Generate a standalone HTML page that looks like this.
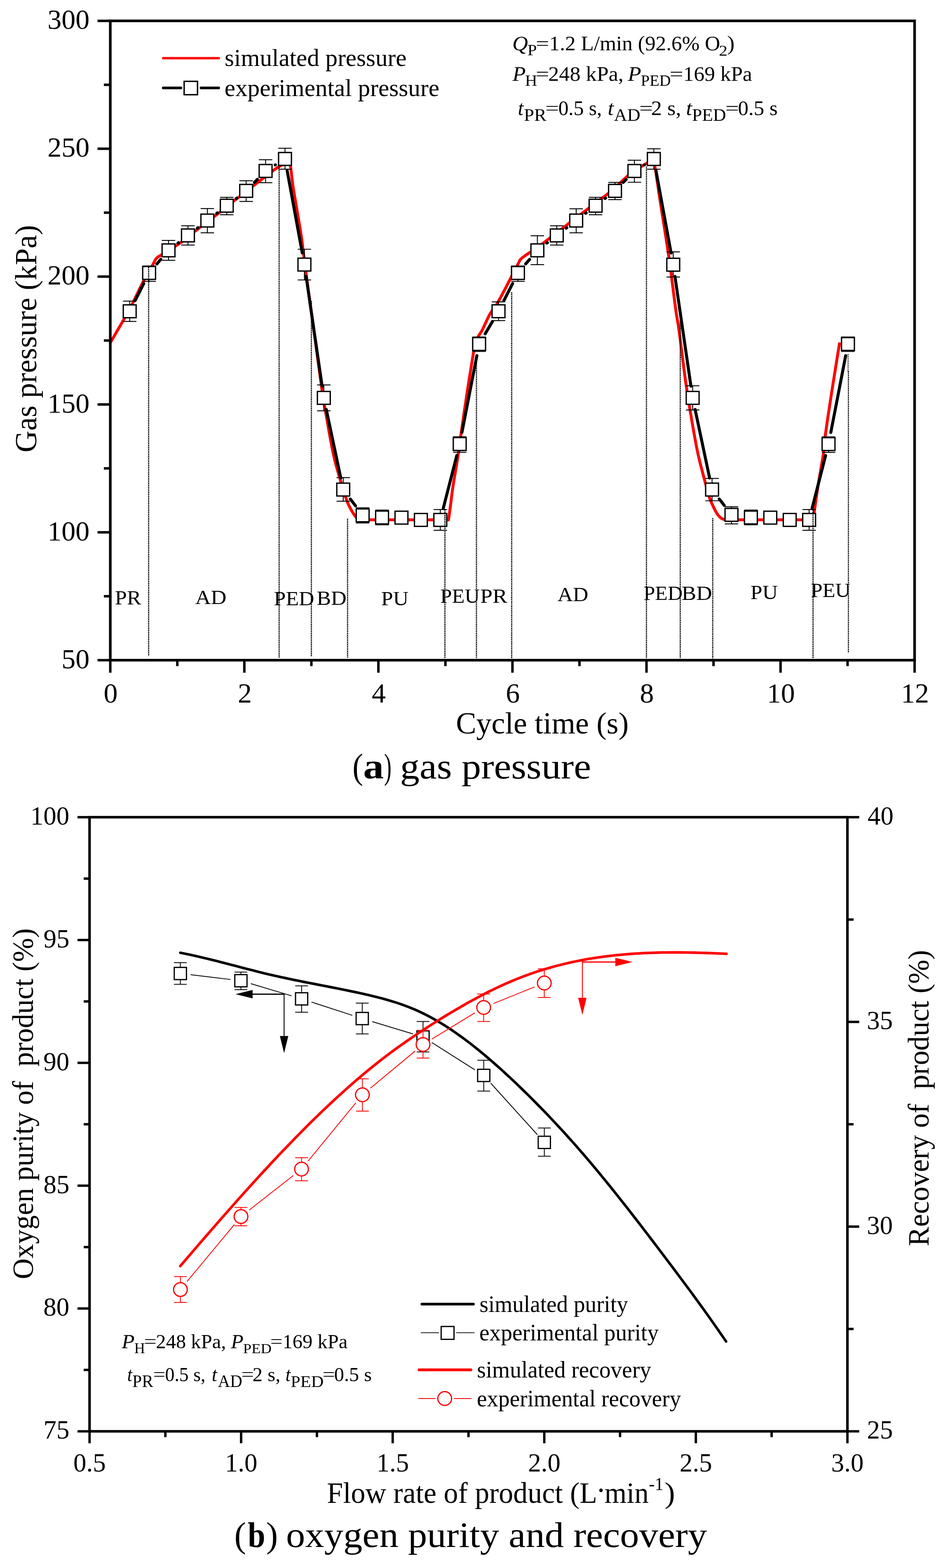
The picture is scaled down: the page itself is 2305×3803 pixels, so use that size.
<!DOCTYPE html>
<html><head><meta charset="utf-8"><title>Figure</title><style>html,body{margin:0;padding:0;background:#fff}svg{display:block}text{font-family:"Liberation Serif","Times New Roman",serif;fill:#000}</style></head><body>
<svg width="2305" height="3803" viewBox="0 0 2305 3803">
<rect width="2305" height="3803" fill="#fff"/>
<g id="chart-a">
<polyline points="267.6,831.3 271.3,824.9 276.7,815.7 282.9,805.0 289.3,793.9 295.3,783.7 300.0,775.5 303.3,769.9 305.6,766.2 307.4,763.3 309.1,760.2 311.4,756.1 314.6,750.0 319.0,741.2 324.4,730.2 330.2,718.2 336.1,706.1 341.5,695.1 346.0,686.0 349.6,679.1 352.7,673.4 355.4,668.8 357.8,664.8 359.9,661.1 362.0,657.5 363.9,654.1 365.5,651.2 367.0,648.7 368.3,646.3 369.6,644.0 371.0,641.5 372.4,638.9 373.8,636.1 375.1,633.5 376.5,630.9 378.0,628.5 379.6,626.4 381.4,624.7 383.2,623.3 385.1,622.1 387.2,620.9 389.4,619.7 391.7,618.3 394.1,616.8 396.5,615.2 399.1,613.6 401.9,611.8 405.0,609.8 408.7,607.5 413.1,604.7 418.3,601.5 423.8,598.1 429.3,594.6 434.5,591.2 438.9,588.2 442.2,585.8 444.5,583.9 446.4,582.1 448.6,580.2 451.6,577.6 456.0,574.0 462.1,569.3 469.5,563.6 477.6,557.4 486.2,550.8 494.8,544.3 503.0,538.0 511.2,531.8 519.7,525.2 528.3,518.7 536.5,512.5 543.8,506.8 550.0,502.0 554.6,498.3 557.8,495.6 560.2,493.5 562.3,491.5 564.8,489.4 568.1,486.7 572.5,483.4 577.5,479.7 582.8,475.8 588.1,471.9 593.1,468.3 597.4,465.0 600.9,462.2 604.0,459.7 606.6,457.4 609.2,455.2 611.8,453.0 614.7,450.6 617.8,448.2 620.8,445.8 623.9,443.5 627.2,441.0 630.6,438.4 634.4,435.5 638.7,432.2 643.4,428.5 648.3,424.7 653.2,420.9 657.9,417.4 661.9,414.4 665.4,411.9 668.5,409.7 671.3,407.8 673.8,406.2 676.2,404.7 678.6,403.3 680.8,402.1 682.9,401.1 684.8,400.3 686.6,399.7 688.3,399.1 690.0,398.5 691.7,397.9 693.3,397.3 694.9,396.8 696.3,396.5 697.7,396.3 699.0,396.5 700.1,396.6 701.1,396.4 702.0,396.5 702.9,397.2 703.8,399.2 704.7,402.7 705.6,408.1 706.5,415.1 707.4,423.3 708.4,432.2 709.5,441.4 710.7,450.6 712.1,459.9 713.8,469.8 715.5,480.0 717.3,490.3 719.1,500.7 720.8,510.9 722.5,521.2 724.3,531.7 726.1,542.3 727.8,552.5 729.4,562.2 730.8,571.1 731.9,578.8 732.8,585.6 733.6,591.8 734.3,597.9 735.0,604.2 735.9,611.3 736.8,618.2 737.6,624.6 738.4,631.2 739.4,639.0 740.7,649.0 742.4,662.0 744.6,678.3 747.2,697.2 750.1,718.2 753.2,741.0 756.6,765.1 760.0,790.0 763.9,818.2 768.2,850.4 772.8,883.9 777.2,916.0 781.0,943.9 784.0,965.0 785.7,977.0 786.4,981.6 786.6,982.1 786.7,981.7 787.2,983.6 788.6,991.0 791.0,1004.8 794.2,1022.7 797.7,1042.9 801.4,1063.6 805.1,1083.2 808.5,1100.0 811.8,1114.2 815.2,1127.4 818.5,1139.4 821.7,1150.3 824.5,1159.8 826.8,1168.0 828.5,1174.4 829.8,1179.0 830.7,1182.2 831.4,1184.8 832.1,1187.2 833.0,1190.0 834.0,1193.1 835.0,1195.9 835.9,1198.6 836.9,1201.2 837.8,1203.7 838.8,1206.3 839.7,1208.9 840.6,1211.4 841.5,1213.9 842.4,1216.3 843.4,1218.8 844.4,1221.3 845.5,1223.8 846.7,1226.3 847.9,1228.7 849.1,1231.2 850.5,1233.7 851.9,1236.3 853.5,1239.0 855.1,1241.9 856.9,1244.7 858.7,1247.5 860.5,1250.0 862.2,1252.2 863.9,1254.0 865.5,1255.4 867.1,1256.7 868.7,1257.7 870.4,1258.5 872.0,1259.3 873.6,1259.9 875.0,1260.3 876.5,1260.5 878.1,1260.6 879.9,1260.7 882.0,1260.8 882.8,1260.9 881.8,1260.9 881.0,1260.9 882.4,1260.9 888.1,1260.8 900.0,1260.8 921.3,1260.8 951.1,1260.8 985.2,1260.8 1019.1,1260.8 1048.8,1260.8 1070.0,1260.8 1081.7,1260.8 1087.1,1260.9 1088.2,1260.9 1087.0,1260.9 1085.5,1260.9 1085.5,1260.8 1086.7,1260.7 1087.3,1260.5 1087.6,1260.3 1087.7,1260.1 1087.8,1259.6 1088.0,1259.0 1088.3,1258.5 1088.4,1258.2 1088.6,1257.7 1088.8,1256.7 1089.1,1255.0 1089.5,1252.0 1090.1,1247.5 1090.9,1241.8 1091.8,1235.2 1092.7,1228.3 1093.7,1221.4 1094.5,1215.0 1095.2,1209.5 1095.7,1204.7 1096.3,1199.9 1096.9,1194.6 1097.8,1188.2 1099.0,1180.0 1100.7,1169.4 1102.8,1156.7 1105.1,1142.9 1107.5,1128.8 1109.7,1115.6 1111.5,1104.0 1112.9,1094.9 1113.9,1087.5 1114.8,1081.0 1115.6,1074.1 1116.7,1065.9 1118.2,1055.4 1120.1,1042.1 1122.3,1027.0 1124.7,1010.4 1127.2,993.2 1129.8,975.9 1132.3,959.0 1135.0,941.6 1137.9,922.8 1140.9,904.0 1143.8,886.2 1146.3,870.7 1148.3,858.5 1149.6,850.5 1150.3,845.8 1150.6,843.3 1150.9,842.0 1151.3,840.6 1152.0,838.0 1153.1,834.4 1154.4,830.7 1155.8,826.9 1157.3,823.2 1158.9,819.6 1160.4,816.3 1161.9,813.5 1163.3,811.3 1164.7,809.2 1166.3,806.8 1168.2,803.9 1170.3,800.0 1172.9,794.8 1175.8,788.5 1178.9,781.7 1182.1,774.7 1185.4,768.0 1188.5,762.1 1191.4,757.4 1194.1,753.6 1196.8,750.1 1199.6,746.4 1202.8,741.8 1206.5,735.8 1210.9,728.0 1216.0,718.7 1221.3,708.6 1226.8,698.3 1231.9,688.4 1236.6,679.5 1240.8,671.4 1244.9,663.4 1248.8,655.9 1252.3,649.0 1255.4,643.0 1258.0,638.0 1259.8,634.5 1260.8,632.3 1261.4,631.0 1262.0,630.1 1263.0,629.0 1264.8,627.3 1267.6,624.9 1271.2,622.2 1275.2,619.3 1279.3,616.5 1283.0,614.0 1286.0,612.0 1287.8,611.0 1288.6,610.8 1289.0,610.9 1289.8,610.7 1291.6,609.7 1295.2,607.2 1300.8,603.0 1308.1,597.5 1316.3,591.1 1325.1,584.2 1333.9,577.4 1342.2,571.0 1350.0,565.0 1357.9,559.0 1365.7,552.9 1373.5,546.9 1381.4,540.9 1389.2,534.9 1397.0,528.9 1404.9,522.9 1412.7,516.9 1420.5,510.9 1428.3,504.9 1436.2,498.9 1444.1,493.0 1452.0,487.2 1459.9,481.3 1467.8,475.4 1475.7,469.3 1483.6,462.9 1491.6,455.9 1499.8,448.3 1507.9,440.6 1515.9,433.0 1523.5,426.0 1530.7,420.0 1537.5,414.9 1544.2,410.5 1550.6,406.7 1556.5,403.4 1561.7,400.5 1566.0,398.0 1569.3,396.0 1571.6,394.6 1573.2,393.6 1574.5,393.0 1575.6,392.5 1577.0,392.0 1578.5,391.4 1580.0,390.9 1581.4,390.5 1582.7,390.4 1583.9,390.9 1585.0,392.0 1585.9,393.3 1586.7,394.6 1587.3,396.5 1588.0,399.3 1588.9,403.6 1590.0,410.0 1591.4,418.1 1592.8,427.5 1594.4,438.4 1596.3,451.0 1598.4,465.7 1601.0,482.6 1604.1,502.8 1607.9,526.3 1611.9,551.8 1616.0,578.0 1619.9,603.6 1623.4,627.3 1626.5,649.9 1629.5,672.5 1632.3,694.6 1634.9,715.3 1637.3,734.0 1639.4,750.0 1641.1,761.6 1642.3,769.1 1643.3,774.5 1644.3,780.0 1645.6,787.8 1647.3,800.0 1649.7,817.8 1652.5,839.6 1655.5,863.8 1658.7,888.2 1661.6,911.2 1664.3,930.8 1666.6,946.5 1668.6,959.9 1670.4,971.6 1672.3,982.9 1674.2,994.4 1676.4,1007.2 1678.8,1021.5 1681.4,1036.7 1684.2,1052.1 1686.9,1067.4 1689.7,1082.1 1692.4,1095.6 1695.1,1108.0 1697.9,1119.7 1700.7,1130.7 1703.4,1141.1 1706.0,1151.0 1708.5,1160.3 1710.8,1169.1 1713.0,1177.5 1715.1,1185.2 1717.1,1192.3 1718.9,1198.8 1720.6,1204.4 1722.1,1209.0 1723.4,1212.5 1724.5,1215.3 1725.6,1217.8 1726.8,1220.3 1728.1,1223.1 1729.6,1226.3 1731.1,1229.6 1732.7,1232.9 1734.3,1236.1 1735.9,1239.1 1737.5,1241.9 1739.1,1244.4 1740.6,1246.8 1742.1,1249.0 1743.7,1251.1 1745.3,1252.9 1746.9,1254.5 1748.6,1255.9 1750.2,1257.0 1752.0,1258.0 1753.7,1258.8 1755.4,1259.4 1757.2,1260.0 1758.9,1260.4 1760.5,1260.6 1762.2,1260.7 1763.9,1260.8 1765.8,1260.8 1768.0,1260.8 1768.7,1260.8 1767.5,1260.9 1766.5,1260.8 1767.8,1260.8 1773.2,1260.8 1785.0,1260.8 1806.3,1260.8 1836.0,1260.8 1870.0,1260.8 1904.0,1260.8 1933.8,1260.8 1955.0,1260.8 1966.8,1260.8 1972.4,1260.9 1973.8,1260.9 1972.8,1261.0 1971.4,1260.9 1971.5,1260.8 1972.7,1260.7 1973.2,1260.8 1973.4,1260.8 1973.3,1260.6 1973.3,1259.8 1973.5,1258.5 1973.8,1256.9 1974.0,1255.4 1974.2,1253.3 1974.5,1250.4 1975.0,1246.1 1975.8,1240.0 1977.0,1231.6 1978.5,1221.2 1980.2,1209.5 1982.0,1197.0 1983.9,1184.4 1985.8,1172.3 1987.8,1160.1 1990.0,1147.4 1992.2,1134.5 1994.4,1121.9 1996.3,1110.3 1997.9,1100.0 1998.9,1092.2 1999.4,1086.6 1999.7,1082.0 2000.0,1076.8 2000.6,1069.7 2001.9,1059.4 2003.9,1045.4 2006.3,1028.6 2009.0,1010.0 2012.0,990.3 2015.0,970.4 2018.0,951.0 2021.2,930.6 2024.8,908.2 2028.4,885.5 2031.8,864.4 2034.7,846.5 2036.8,833.6" fill="none" stroke="#f00" stroke-width="7.0" stroke-linecap="round" stroke-linejoin="round"/>
<line x1="327.71" y1="729.31" x2="348.79" y2="687.69" stroke="#000" stroke-width="7.3" stroke-linecap="round" />
<line x1="380.57" y1="640.16" x2="390.13" y2="629.04" stroke="#000" stroke-width="7.3" stroke-linecap="round" />
<line x1="431.73" y1="589.65" x2="433.17" y2="588.55" stroke="#000" stroke-width="7.3" stroke-linecap="round" />
<line x1="478.86" y1="553.48" x2="480.24" y2="552.42" stroke="#000" stroke-width="7.3" stroke-linecap="round" />
<line x1="525.98" y1="517.41" x2="527.32" y2="516.39" stroke="#000" stroke-width="7.3" stroke-linecap="round" />
<line x1="573.08" y1="481.41" x2="574.42" y2="480.39" stroke="#000" stroke-width="7.3" stroke-linecap="round" />
<line x1="617.41" y1="442.28" x2="624.29" y2="435.22" stroke="#000" stroke-width="7.3" stroke-linecap="round" />
<line x1="667.74" y1="400.18" x2="668.16" y2="399.92" stroke="#000" stroke-width="7.3" stroke-linecap="round" />
<line x1="696.71" y1="413.83" x2="733.39" y2="613.37" stroke="#000" stroke-width="7.3" stroke-linecap="round" />
<line x1="742.75" y1="670.20" x2="781.55" y2="936.50" stroke="#000" stroke-width="7.3" stroke-linecap="round" />
<line x1="791.67" y1="993.18" x2="826.83" y2="1159.22" stroke="#000" stroke-width="7.3" stroke-linecap="round" />
<line x1="850.13" y1="1210.40" x2="862.57" y2="1226.90" stroke="#000" stroke-width="7.3" stroke-linecap="round" />
<line x1="1075.44" y1="1233.10" x2="1108.26" y2="1104.80" stroke="#000" stroke-width="7.3" stroke-linecap="round" />
<line x1="1120.89" y1="1048.63" x2="1157.01" y2="862.67" stroke="#000" stroke-width="7.3" stroke-linecap="round" />
<line x1="1177.18" y1="809.62" x2="1194.92" y2="779.68" stroke="#000" stroke-width="7.3" stroke-linecap="round" />
<line x1="1222.63" y1="729.22" x2="1243.67" y2="687.78" stroke="#000" stroke-width="7.3" stroke-linecap="round" />
<line x1="1275.45" y1="640.24" x2="1285.05" y2="629.06" stroke="#000" stroke-width="7.3" stroke-linecap="round" />
<line x1="1326.63" y1="589.65" x2="1328.07" y2="588.55" stroke="#000" stroke-width="7.3" stroke-linecap="round" />
<line x1="1373.76" y1="553.48" x2="1375.14" y2="552.42" stroke="#000" stroke-width="7.3" stroke-linecap="round" />
<line x1="1420.88" y1="517.41" x2="1422.22" y2="516.39" stroke="#000" stroke-width="7.3" stroke-linecap="round" />
<line x1="1467.98" y1="481.41" x2="1469.32" y2="480.39" stroke="#000" stroke-width="7.3" stroke-linecap="round" />
<line x1="1512.33" y1="442.30" x2="1519.17" y2="435.30" stroke="#000" stroke-width="7.3" stroke-linecap="round" />
<line x1="1562.64" y1="400.28" x2="1563.06" y2="400.02" stroke="#000" stroke-width="7.3" stroke-linecap="round" />
<line x1="1591.60" y1="413.93" x2="1628.30" y2="613.67" stroke="#000" stroke-width="7.3" stroke-linecap="round" />
<line x1="1637.66" y1="670.50" x2="1676.44" y2="936.50" stroke="#000" stroke-width="7.3" stroke-linecap="round" />
<line x1="1686.57" y1="993.18" x2="1721.73" y2="1159.22" stroke="#000" stroke-width="7.3" stroke-linecap="round" />
<line x1="1745.25" y1="1210.24" x2="1757.25" y2="1225.86" stroke="#000" stroke-width="7.3" stroke-linecap="round" />
<line x1="1970.35" y1="1233.10" x2="2003.15" y2="1105.00" stroke="#000" stroke-width="7.3" stroke-linecap="round" />
<line x1="2015.79" y1="1048.83" x2="2051.91" y2="862.67" stroke="#000" stroke-width="7.3" stroke-linecap="round" />
<line x1="314.70" y1="730.40" x2="314.70" y2="779.70" stroke="#000" stroke-width="2.2" stroke-linecap="butt" />
<line x1="298.40" y1="730.40" x2="331.00" y2="730.40" stroke="#000" stroke-width="2.2" stroke-linecap="butt" />
<line x1="298.40" y1="779.70" x2="331.00" y2="779.70" stroke="#000" stroke-width="2.2" stroke-linecap="butt" />
<rect x="299.1" y="739.4" width="31.2" height="31.2" fill="#fff" stroke="#000" stroke-width="3.2"/>
<line x1="361.80" y1="645.00" x2="361.80" y2="682.30" stroke="#000" stroke-width="2.2" stroke-linecap="butt" />
<line x1="345.50" y1="645.00" x2="378.10" y2="645.00" stroke="#000" stroke-width="2.2" stroke-linecap="butt" />
<line x1="345.50" y1="682.30" x2="378.10" y2="682.30" stroke="#000" stroke-width="2.2" stroke-linecap="butt" />
<rect x="346.2" y="646.4" width="31.2" height="31.2" fill="#fff" stroke="#000" stroke-width="3.2"/>
<line x1="408.90" y1="583.10" x2="408.90" y2="631.30" stroke="#000" stroke-width="2.2" stroke-linecap="butt" />
<line x1="392.60" y1="583.10" x2="425.20" y2="583.10" stroke="#000" stroke-width="2.2" stroke-linecap="butt" />
<line x1="392.60" y1="631.30" x2="425.20" y2="631.30" stroke="#000" stroke-width="2.2" stroke-linecap="butt" />
<rect x="393.3" y="591.6" width="31.2" height="31.2" fill="#fff" stroke="#000" stroke-width="3.2"/>
<line x1="456.00" y1="547.70" x2="456.00" y2="594.30" stroke="#000" stroke-width="2.2" stroke-linecap="butt" />
<line x1="439.70" y1="547.70" x2="472.30" y2="547.70" stroke="#000" stroke-width="2.2" stroke-linecap="butt" />
<line x1="439.70" y1="594.30" x2="472.30" y2="594.30" stroke="#000" stroke-width="2.2" stroke-linecap="butt" />
<rect x="440.4" y="555.4" width="31.2" height="31.2" fill="#fff" stroke="#000" stroke-width="3.2"/>
<line x1="503.10" y1="505.90" x2="503.10" y2="564.60" stroke="#000" stroke-width="2.2" stroke-linecap="butt" />
<line x1="486.80" y1="505.90" x2="519.40" y2="505.90" stroke="#000" stroke-width="2.2" stroke-linecap="butt" />
<line x1="486.80" y1="564.60" x2="519.40" y2="564.60" stroke="#000" stroke-width="2.2" stroke-linecap="butt" />
<rect x="487.5" y="519.3" width="31.2" height="31.2" fill="#fff" stroke="#000" stroke-width="3.2"/>
<line x1="550.20" y1="478.60" x2="550.20" y2="520.80" stroke="#000" stroke-width="2.2" stroke-linecap="butt" />
<line x1="533.90" y1="478.60" x2="566.50" y2="478.60" stroke="#000" stroke-width="2.2" stroke-linecap="butt" />
<line x1="533.90" y1="520.80" x2="566.50" y2="520.80" stroke="#000" stroke-width="2.2" stroke-linecap="butt" />
<rect x="534.6" y="483.3" width="31.2" height="31.2" fill="#fff" stroke="#000" stroke-width="3.2"/>
<line x1="597.30" y1="438.30" x2="597.30" y2="488.70" stroke="#000" stroke-width="2.2" stroke-linecap="butt" />
<line x1="581.00" y1="438.30" x2="613.60" y2="438.30" stroke="#000" stroke-width="2.2" stroke-linecap="butt" />
<line x1="581.00" y1="488.70" x2="613.60" y2="488.70" stroke="#000" stroke-width="2.2" stroke-linecap="butt" />
<rect x="581.7" y="447.3" width="31.2" height="31.2" fill="#fff" stroke="#000" stroke-width="3.2"/>
<line x1="644.40" y1="387.40" x2="644.40" y2="443.20" stroke="#000" stroke-width="2.2" stroke-linecap="butt" />
<line x1="628.10" y1="387.40" x2="660.70" y2="387.40" stroke="#000" stroke-width="2.2" stroke-linecap="butt" />
<line x1="628.10" y1="443.20" x2="660.70" y2="443.20" stroke="#000" stroke-width="2.2" stroke-linecap="butt" />
<rect x="628.8" y="399.0" width="31.2" height="31.2" fill="#fff" stroke="#000" stroke-width="3.2"/>
<line x1="691.50" y1="359.70" x2="691.50" y2="410.40" stroke="#000" stroke-width="2.2" stroke-linecap="butt" />
<line x1="675.20" y1="359.70" x2="707.80" y2="359.70" stroke="#000" stroke-width="2.2" stroke-linecap="butt" />
<line x1="675.20" y1="410.40" x2="707.80" y2="410.40" stroke="#000" stroke-width="2.2" stroke-linecap="butt" />
<rect x="675.9" y="369.9" width="31.2" height="31.2" fill="#fff" stroke="#000" stroke-width="3.2"/>
<line x1="738.60" y1="604.50" x2="738.60" y2="679.00" stroke="#000" stroke-width="2.2" stroke-linecap="butt" />
<line x1="722.30" y1="604.50" x2="754.90" y2="604.50" stroke="#000" stroke-width="2.2" stroke-linecap="butt" />
<line x1="722.30" y1="679.00" x2="754.90" y2="679.00" stroke="#000" stroke-width="2.2" stroke-linecap="butt" />
<rect x="723.0" y="626.1" width="31.2" height="31.2" fill="#fff" stroke="#000" stroke-width="3.2"/>
<line x1="785.70" y1="933.70" x2="785.70" y2="996.40" stroke="#000" stroke-width="2.2" stroke-linecap="butt" />
<line x1="769.40" y1="933.70" x2="802.00" y2="933.70" stroke="#000" stroke-width="2.2" stroke-linecap="butt" />
<line x1="769.40" y1="996.40" x2="802.00" y2="996.40" stroke="#000" stroke-width="2.2" stroke-linecap="butt" />
<rect x="770.1" y="949.4" width="31.2" height="31.2" fill="#fff" stroke="#000" stroke-width="3.2"/>
<line x1="832.80" y1="1158.30" x2="832.80" y2="1215.70" stroke="#000" stroke-width="2.2" stroke-linecap="butt" />
<line x1="816.50" y1="1158.30" x2="849.10" y2="1158.30" stroke="#000" stroke-width="2.2" stroke-linecap="butt" />
<line x1="816.50" y1="1215.70" x2="849.10" y2="1215.70" stroke="#000" stroke-width="2.2" stroke-linecap="butt" />
<rect x="817.2" y="1171.8" width="31.2" height="31.2" fill="#fff" stroke="#000" stroke-width="3.2"/>
<line x1="879.90" y1="1231.60" x2="879.90" y2="1268.40" stroke="#000" stroke-width="2.2" stroke-linecap="butt" />
<line x1="863.60" y1="1231.60" x2="896.20" y2="1231.60" stroke="#000" stroke-width="2.2" stroke-linecap="butt" />
<line x1="863.60" y1="1268.40" x2="896.20" y2="1268.40" stroke="#000" stroke-width="2.2" stroke-linecap="butt" />
<rect x="864.3" y="1234.3" width="31.2" height="31.2" fill="#fff" stroke="#000" stroke-width="3.2"/>
<line x1="927.00" y1="1237.20" x2="927.00" y2="1273.00" stroke="#000" stroke-width="2.2" stroke-linecap="butt" />
<line x1="910.70" y1="1237.20" x2="943.30" y2="1237.20" stroke="#000" stroke-width="2.2" stroke-linecap="butt" />
<line x1="910.70" y1="1273.00" x2="943.30" y2="1273.00" stroke="#000" stroke-width="2.2" stroke-linecap="butt" />
<rect x="911.4" y="1239.5" width="31.2" height="31.2" fill="#fff" stroke="#000" stroke-width="3.2"/>
<rect x="958.5" y="1239.9" width="31.2" height="31.2" fill="#fff" stroke="#000" stroke-width="3.2"/>
<rect x="1005.6" y="1245.4" width="31.2" height="31.2" fill="#fff" stroke="#000" stroke-width="3.2"/>
<line x1="1068.30" y1="1235.80" x2="1068.30" y2="1286.10" stroke="#000" stroke-width="2.2" stroke-linecap="butt" />
<line x1="1052.00" y1="1235.80" x2="1084.60" y2="1235.80" stroke="#000" stroke-width="2.2" stroke-linecap="butt" />
<line x1="1052.00" y1="1286.10" x2="1084.60" y2="1286.10" stroke="#000" stroke-width="2.2" stroke-linecap="butt" />
<rect x="1052.7" y="1245.4" width="31.2" height="31.2" fill="#fff" stroke="#000" stroke-width="3.2"/>
<line x1="1115.40" y1="1059.40" x2="1115.40" y2="1096.80" stroke="#000" stroke-width="2.2" stroke-linecap="butt" />
<line x1="1099.10" y1="1059.40" x2="1131.70" y2="1059.40" stroke="#000" stroke-width="2.2" stroke-linecap="butt" />
<line x1="1099.10" y1="1096.80" x2="1131.70" y2="1096.80" stroke="#000" stroke-width="2.2" stroke-linecap="butt" />
<rect x="1099.8" y="1061.3" width="31.2" height="31.2" fill="#fff" stroke="#000" stroke-width="3.2"/>
<line x1="1162.50" y1="817.30" x2="1162.50" y2="852.50" stroke="#000" stroke-width="2.2" stroke-linecap="butt" />
<line x1="1146.20" y1="817.30" x2="1178.80" y2="817.30" stroke="#000" stroke-width="2.2" stroke-linecap="butt" />
<line x1="1146.20" y1="852.50" x2="1178.80" y2="852.50" stroke="#000" stroke-width="2.2" stroke-linecap="butt" />
<rect x="1146.9" y="818.8" width="31.2" height="31.2" fill="#fff" stroke="#000" stroke-width="3.2"/>
<line x1="1209.60" y1="732.20" x2="1209.60" y2="777.60" stroke="#000" stroke-width="2.2" stroke-linecap="butt" />
<line x1="1193.30" y1="732.20" x2="1225.90" y2="732.20" stroke="#000" stroke-width="2.2" stroke-linecap="butt" />
<line x1="1193.30" y1="777.60" x2="1225.90" y2="777.60" stroke="#000" stroke-width="2.2" stroke-linecap="butt" />
<rect x="1194.0" y="739.3" width="31.2" height="31.2" fill="#fff" stroke="#000" stroke-width="3.2"/>
<line x1="1256.70" y1="645.00" x2="1256.70" y2="682.40" stroke="#000" stroke-width="2.2" stroke-linecap="butt" />
<line x1="1240.40" y1="645.00" x2="1273.00" y2="645.00" stroke="#000" stroke-width="2.2" stroke-linecap="butt" />
<line x1="1240.40" y1="682.40" x2="1273.00" y2="682.40" stroke="#000" stroke-width="2.2" stroke-linecap="butt" />
<rect x="1241.1" y="646.5" width="31.2" height="31.2" fill="#fff" stroke="#000" stroke-width="3.2"/>
<line x1="1303.80" y1="571.80" x2="1303.80" y2="641.80" stroke="#000" stroke-width="2.2" stroke-linecap="butt" />
<line x1="1287.50" y1="571.80" x2="1320.10" y2="571.80" stroke="#000" stroke-width="2.2" stroke-linecap="butt" />
<line x1="1287.50" y1="641.80" x2="1320.10" y2="641.80" stroke="#000" stroke-width="2.2" stroke-linecap="butt" />
<rect x="1288.2" y="591.6" width="31.2" height="31.2" fill="#fff" stroke="#000" stroke-width="3.2"/>
<line x1="1350.90" y1="547.70" x2="1350.90" y2="594.30" stroke="#000" stroke-width="2.2" stroke-linecap="butt" />
<line x1="1334.60" y1="547.70" x2="1367.20" y2="547.70" stroke="#000" stroke-width="2.2" stroke-linecap="butt" />
<line x1="1334.60" y1="594.30" x2="1367.20" y2="594.30" stroke="#000" stroke-width="2.2" stroke-linecap="butt" />
<rect x="1335.3" y="555.4" width="31.2" height="31.2" fill="#fff" stroke="#000" stroke-width="3.2"/>
<line x1="1398.00" y1="506.30" x2="1398.00" y2="564.60" stroke="#000" stroke-width="2.2" stroke-linecap="butt" />
<line x1="1381.70" y1="506.30" x2="1414.30" y2="506.30" stroke="#000" stroke-width="2.2" stroke-linecap="butt" />
<line x1="1381.70" y1="564.60" x2="1414.30" y2="564.60" stroke="#000" stroke-width="2.2" stroke-linecap="butt" />
<rect x="1382.4" y="519.3" width="31.2" height="31.2" fill="#fff" stroke="#000" stroke-width="3.2"/>
<line x1="1445.10" y1="478.60" x2="1445.10" y2="520.80" stroke="#000" stroke-width="2.2" stroke-linecap="butt" />
<line x1="1428.80" y1="478.60" x2="1461.40" y2="478.60" stroke="#000" stroke-width="2.2" stroke-linecap="butt" />
<line x1="1428.80" y1="520.80" x2="1461.40" y2="520.80" stroke="#000" stroke-width="2.2" stroke-linecap="butt" />
<rect x="1429.5" y="483.3" width="31.2" height="31.2" fill="#fff" stroke="#000" stroke-width="3.2"/>
<line x1="1492.20" y1="442.40" x2="1492.20" y2="484.20" stroke="#000" stroke-width="2.2" stroke-linecap="butt" />
<line x1="1475.90" y1="442.40" x2="1508.50" y2="442.40" stroke="#000" stroke-width="2.2" stroke-linecap="butt" />
<line x1="1475.90" y1="484.20" x2="1508.50" y2="484.20" stroke="#000" stroke-width="2.2" stroke-linecap="butt" />
<rect x="1476.6" y="447.3" width="31.2" height="31.2" fill="#fff" stroke="#000" stroke-width="3.2"/>
<line x1="1539.30" y1="388.60" x2="1539.30" y2="442.00" stroke="#000" stroke-width="2.2" stroke-linecap="butt" />
<line x1="1523.00" y1="388.60" x2="1555.60" y2="388.60" stroke="#000" stroke-width="2.2" stroke-linecap="butt" />
<line x1="1523.00" y1="442.00" x2="1555.60" y2="442.00" stroke="#000" stroke-width="2.2" stroke-linecap="butt" />
<rect x="1523.7" y="399.1" width="31.2" height="31.2" fill="#fff" stroke="#000" stroke-width="3.2"/>
<line x1="1586.40" y1="360.90" x2="1586.40" y2="410.30" stroke="#000" stroke-width="2.2" stroke-linecap="butt" />
<line x1="1570.10" y1="360.90" x2="1602.70" y2="360.90" stroke="#000" stroke-width="2.2" stroke-linecap="butt" />
<line x1="1570.10" y1="410.30" x2="1602.70" y2="410.30" stroke="#000" stroke-width="2.2" stroke-linecap="butt" />
<rect x="1570.8" y="370.0" width="31.2" height="31.2" fill="#fff" stroke="#000" stroke-width="3.2"/>
<line x1="1633.50" y1="610.80" x2="1633.50" y2="671.90" stroke="#000" stroke-width="2.2" stroke-linecap="butt" />
<line x1="1617.20" y1="610.80" x2="1649.80" y2="610.80" stroke="#000" stroke-width="2.2" stroke-linecap="butt" />
<line x1="1617.20" y1="671.90" x2="1649.80" y2="671.90" stroke="#000" stroke-width="2.2" stroke-linecap="butt" />
<rect x="1617.9" y="626.4" width="31.2" height="31.2" fill="#fff" stroke="#000" stroke-width="3.2"/>
<line x1="1680.60" y1="935.70" x2="1680.60" y2="994.30" stroke="#000" stroke-width="2.2" stroke-linecap="butt" />
<line x1="1664.30" y1="935.70" x2="1696.90" y2="935.70" stroke="#000" stroke-width="2.2" stroke-linecap="butt" />
<line x1="1664.30" y1="994.30" x2="1696.90" y2="994.30" stroke="#000" stroke-width="2.2" stroke-linecap="butt" />
<rect x="1665.0" y="949.4" width="31.2" height="31.2" fill="#fff" stroke="#000" stroke-width="3.2"/>
<line x1="1727.70" y1="1160.30" x2="1727.70" y2="1214.50" stroke="#000" stroke-width="2.2" stroke-linecap="butt" />
<line x1="1711.40" y1="1160.30" x2="1744.00" y2="1160.30" stroke="#000" stroke-width="2.2" stroke-linecap="butt" />
<line x1="1711.40" y1="1214.50" x2="1744.00" y2="1214.50" stroke="#000" stroke-width="2.2" stroke-linecap="butt" />
<rect x="1712.1" y="1171.8" width="31.2" height="31.2" fill="#fff" stroke="#000" stroke-width="3.2"/>
<line x1="1774.80" y1="1229.10" x2="1774.80" y2="1270.60" stroke="#000" stroke-width="2.2" stroke-linecap="butt" />
<line x1="1758.50" y1="1229.10" x2="1791.10" y2="1229.10" stroke="#000" stroke-width="2.2" stroke-linecap="butt" />
<line x1="1758.50" y1="1270.60" x2="1791.10" y2="1270.60" stroke="#000" stroke-width="2.2" stroke-linecap="butt" />
<rect x="1759.2" y="1233.1" width="31.2" height="31.2" fill="#fff" stroke="#000" stroke-width="3.2"/>
<line x1="1821.90" y1="1237.20" x2="1821.90" y2="1273.00" stroke="#000" stroke-width="2.2" stroke-linecap="butt" />
<line x1="1805.60" y1="1237.20" x2="1838.20" y2="1237.20" stroke="#000" stroke-width="2.2" stroke-linecap="butt" />
<line x1="1805.60" y1="1273.00" x2="1838.20" y2="1273.00" stroke="#000" stroke-width="2.2" stroke-linecap="butt" />
<rect x="1806.3" y="1239.5" width="31.2" height="31.2" fill="#fff" stroke="#000" stroke-width="3.2"/>
<rect x="1853.4" y="1239.9" width="31.2" height="31.2" fill="#fff" stroke="#000" stroke-width="3.2"/>
<rect x="1900.5" y="1245.4" width="31.2" height="31.2" fill="#fff" stroke="#000" stroke-width="3.2"/>
<line x1="1963.20" y1="1235.80" x2="1963.20" y2="1286.10" stroke="#000" stroke-width="2.2" stroke-linecap="butt" />
<line x1="1946.90" y1="1235.80" x2="1979.50" y2="1235.80" stroke="#000" stroke-width="2.2" stroke-linecap="butt" />
<line x1="1946.90" y1="1286.10" x2="1979.50" y2="1286.10" stroke="#000" stroke-width="2.2" stroke-linecap="butt" />
<rect x="1947.6" y="1245.4" width="31.2" height="31.2" fill="#fff" stroke="#000" stroke-width="3.2"/>
<line x1="2010.30" y1="1059.50" x2="2010.30" y2="1097.20" stroke="#000" stroke-width="2.2" stroke-linecap="butt" />
<line x1="1994.00" y1="1059.50" x2="2026.60" y2="1059.50" stroke="#000" stroke-width="2.2" stroke-linecap="butt" />
<line x1="1994.00" y1="1097.20" x2="2026.60" y2="1097.20" stroke="#000" stroke-width="2.2" stroke-linecap="butt" />
<rect x="1994.7" y="1061.5" width="31.2" height="31.2" fill="#fff" stroke="#000" stroke-width="3.2"/>
<line x1="2057.40" y1="817.30" x2="2057.40" y2="852.50" stroke="#000" stroke-width="2.2" stroke-linecap="butt" />
<line x1="2041.10" y1="817.30" x2="2073.70" y2="817.30" stroke="#000" stroke-width="2.2" stroke-linecap="butt" />
<line x1="2041.10" y1="852.50" x2="2073.70" y2="852.50" stroke="#000" stroke-width="2.2" stroke-linecap="butt" />
<rect x="2041.8" y="818.8" width="31.2" height="31.2" fill="#fff" stroke="#000" stroke-width="3.2"/>
<line x1="360.60" y1="648.00" x2="360.60" y2="1590.80" stroke="#000" stroke-width="3.1" stroke-linecap="butt" stroke-dasharray="2.8 1.6"/>
<line x1="677.30" y1="404.00" x2="677.30" y2="1596.00" stroke="#000" stroke-width="3.1" stroke-linecap="butt" stroke-dasharray="2.8 1.6"/>
<line x1="755.50" y1="730.00" x2="755.50" y2="1593.00" stroke="#000" stroke-width="3.1" stroke-linecap="butt" stroke-dasharray="2.8 1.6"/>
<line x1="843.30" y1="1258.00" x2="843.30" y2="1595.00" stroke="#000" stroke-width="3.1" stroke-linecap="butt" stroke-dasharray="2.8 1.6"/>
<line x1="1079.50" y1="1236.00" x2="1079.50" y2="1597.00" stroke="#000" stroke-width="3.1" stroke-linecap="butt" stroke-dasharray="2.8 1.6"/>
<line x1="1156.00" y1="862.00" x2="1156.00" y2="1597.00" stroke="#000" stroke-width="3.1" stroke-linecap="butt" stroke-dasharray="2.8 1.6"/>
<line x1="1241.50" y1="708.90" x2="1241.50" y2="1597.00" stroke="#000" stroke-width="3.1" stroke-linecap="butt" stroke-dasharray="2.8 1.6"/>
<line x1="1568.50" y1="404.00" x2="1568.50" y2="1597.00" stroke="#000" stroke-width="3.1" stroke-linecap="butt" stroke-dasharray="2.8 1.6"/>
<line x1="1650.50" y1="778.00" x2="1650.50" y2="1597.00" stroke="#000" stroke-width="3.1" stroke-linecap="butt" stroke-dasharray="2.8 1.6"/>
<line x1="1729.30" y1="1256.70" x2="1729.30" y2="1597.00" stroke="#000" stroke-width="3.1" stroke-linecap="butt" stroke-dasharray="2.8 1.6"/>
<line x1="1972.70" y1="1236.60" x2="1972.70" y2="1597.00" stroke="#000" stroke-width="3.1" stroke-linecap="butt" stroke-dasharray="2.8 1.6"/>
<line x1="2057.70" y1="858.50" x2="2057.70" y2="901.00" stroke="#000" stroke-width="2.1" stroke-linecap="butt" stroke-dasharray="2.8 1.6"/>
<line x1="2058.50" y1="901.00" x2="2058.50" y2="1583.40" stroke="#000" stroke-width="2.9" stroke-linecap="butt" stroke-dasharray="2.8 1.6"/>
<rect x="267.6" y="50.6" width="1951.5" height="1550.6" fill="none" stroke="#000" stroke-width="6.4"/>
<line x1="236.60" y1="1601.20" x2="267.60" y2="1601.20" stroke="#000" stroke-width="6.0" stroke-linecap="butt" />
<text transform="translate(149.25,1620.80) scale(1.0000,1.0000)" font-size="68">50</text>
<line x1="252.00" y1="1446.14" x2="267.60" y2="1446.14" stroke="#000" stroke-width="6.0" stroke-linecap="butt" />
<line x1="236.60" y1="1291.08" x2="267.60" y2="1291.08" stroke="#000" stroke-width="6.0" stroke-linecap="butt" />
<text transform="translate(115.25,1310.68) scale(1.0000,1.0000)" font-size="68">100</text>
<line x1="252.00" y1="1136.02" x2="267.60" y2="1136.02" stroke="#000" stroke-width="6.0" stroke-linecap="butt" />
<line x1="236.60" y1="980.96" x2="267.60" y2="980.96" stroke="#000" stroke-width="6.0" stroke-linecap="butt" />
<text transform="translate(115.25,1000.56) scale(1.0000,1.0000)" font-size="68">150</text>
<line x1="252.00" y1="825.90" x2="267.60" y2="825.90" stroke="#000" stroke-width="6.0" stroke-linecap="butt" />
<line x1="236.60" y1="670.84" x2="267.60" y2="670.84" stroke="#000" stroke-width="6.0" stroke-linecap="butt" />
<text transform="translate(115.25,690.44) scale(1.0000,1.0000)" font-size="68">200</text>
<line x1="252.00" y1="515.78" x2="267.60" y2="515.78" stroke="#000" stroke-width="6.0" stroke-linecap="butt" />
<line x1="236.60" y1="360.72" x2="267.60" y2="360.72" stroke="#000" stroke-width="6.0" stroke-linecap="butt" />
<text transform="translate(115.25,380.32) scale(1.0000,1.0000)" font-size="68">250</text>
<line x1="252.00" y1="205.66" x2="267.60" y2="205.66" stroke="#000" stroke-width="6.0" stroke-linecap="butt" />
<line x1="236.60" y1="50.60" x2="267.60" y2="50.60" stroke="#000" stroke-width="6.0" stroke-linecap="butt" />
<text transform="translate(115.25,70.20) scale(1.0000,1.0000)" font-size="68">300</text>
<line x1="267.60" y1="1601.20" x2="267.60" y2="1631.60" stroke="#000" stroke-width="6.0" stroke-linecap="butt" />
<text x="268.6" y="1703.7" font-size="68" text-anchor="middle" >0</text>
<line x1="430.23" y1="1601.20" x2="430.23" y2="1615.60" stroke="#000" stroke-width="6.0" stroke-linecap="butt" />
<line x1="592.85" y1="1601.20" x2="592.85" y2="1631.60" stroke="#000" stroke-width="6.0" stroke-linecap="butt" />
<text x="593.9" y="1703.7" font-size="68" text-anchor="middle" >2</text>
<line x1="755.48" y1="1601.20" x2="755.48" y2="1615.60" stroke="#000" stroke-width="6.0" stroke-linecap="butt" />
<line x1="918.10" y1="1601.20" x2="918.10" y2="1631.60" stroke="#000" stroke-width="6.0" stroke-linecap="butt" />
<text x="919.1" y="1703.7" font-size="68" text-anchor="middle" >4</text>
<line x1="1080.72" y1="1601.20" x2="1080.72" y2="1615.60" stroke="#000" stroke-width="6.0" stroke-linecap="butt" />
<line x1="1243.35" y1="1601.20" x2="1243.35" y2="1631.60" stroke="#000" stroke-width="6.0" stroke-linecap="butt" />
<text x="1244.3" y="1703.7" font-size="68" text-anchor="middle" >6</text>
<line x1="1405.97" y1="1601.20" x2="1405.97" y2="1615.60" stroke="#000" stroke-width="6.0" stroke-linecap="butt" />
<line x1="1568.60" y1="1601.20" x2="1568.60" y2="1631.60" stroke="#000" stroke-width="6.0" stroke-linecap="butt" />
<text x="1569.6" y="1703.7" font-size="68" text-anchor="middle" >8</text>
<line x1="1731.22" y1="1601.20" x2="1731.22" y2="1615.60" stroke="#000" stroke-width="6.0" stroke-linecap="butt" />
<line x1="1893.85" y1="1601.20" x2="1893.85" y2="1631.60" stroke="#000" stroke-width="6.0" stroke-linecap="butt" />
<text x="1894.8" y="1703.7" font-size="68" text-anchor="middle" >10</text>
<line x1="2056.47" y1="1601.20" x2="2056.47" y2="1615.60" stroke="#000" stroke-width="6.0" stroke-linecap="butt" />
<line x1="2219.10" y1="1601.20" x2="2219.10" y2="1631.60" stroke="#000" stroke-width="6.0" stroke-linecap="butt" />
<text x="2220.1" y="1703.7" font-size="68" text-anchor="middle" >12</text>
<text transform="translate(1106.24,1779.00) scale(1.0134,1.0000)" font-size="73">Cycle time (s)</text>
<text transform="translate(87.50,1094.30) rotate(-90) translate(-2.92,0.00) scale(1.0002,1.0000)" font-size="73">Gas pressure (kPa)</text>
<text transform="translate(855.22,1888.10) scale(0.8986,1.0000)" font-size="86">(</text>
<text transform="translate(881.15,1888.10) scale(1.1615,1.0000)" font-size="86" font-weight="bold">a</text>
<text transform="translate(932.05,1888.10) scale(0.6277,1.0000)" font-size="86">)</text>
<text transform="translate(970.79,1888.10) scale(1.0962,1.0000)" font-size="86">gas pressure</text>
<line x1="395.80" y1="141.10" x2="530.80" y2="141.10" stroke="#f00" stroke-width="5.8" stroke-linecap="round" />
<line x1="396.20" y1="213.30" x2="438.90" y2="213.30" stroke="#000" stroke-width="6.6" stroke-linecap="round" />
<line x1="487.80" y1="213.30" x2="530.50" y2="213.30" stroke="#000" stroke-width="6.6" stroke-linecap="round" />
<rect x="446.8" y="197.3" width="32.4" height="32.4" fill="#fff" stroke="#000" stroke-width="3.4"/>
<text transform="translate(545.04,160.40) scale(1.0017,1.0000)" font-size="59">simulated pressure</text>
<text transform="translate(544.63,232.70) scale(1.0040,1.0000)" font-size="59">experimental pressure</text>
<text transform="translate(1243.11,122.00) scale(1.0523,1.0000)" font-size="50" font-style="italic">Q</text>
<text transform="translate(1279.77,133.90) scale(1.1027,1.0000)" font-size="37.2">P</text>
<text transform="translate(1300.12,119.00) scale(1.1527,0.8600)" font-size="50">=</text>
<text transform="translate(1332.61,122.00) scale(1.0263,1.0000)" font-size="50">1.2 L/min (92.6% O</text>
<text transform="translate(1744.23,134.80) scale(1.1373,1.0000)" font-size="36.7">2</text>
<text transform="translate(1764.32,122.00) scale(1.0951,1.0000)" font-size="50">)</text>
<text transform="translate(1243.56,196.00) scale(1.0475,1.0000)" font-size="50" font-style="italic">P</text>
<text transform="translate(1273.66,207.80) scale(1.1117,1.0000)" font-size="37.2">H</text>
<text transform="translate(1300.12,193.00) scale(1.1527,0.8600)" font-size="50">=</text>
<text transform="translate(1330.18,196.00) scale(1.0445,1.0000)" font-size="50">248 kPa,</text>
<text transform="translate(1523.37,196.00) scale(1.0644,1.0000)" font-size="50" font-style="italic">P</text>
<text transform="translate(1554.84,207.80) scale(1.0369,1.0000)" font-size="37.2">PED</text>
<text transform="translate(1624.54,193.00) scale(1.1828,0.8600)" font-size="50">=</text>
<text transform="translate(1657.70,196.00) scale(1.0294,1.0000)" font-size="50">169 kPa</text>
<text transform="translate(1256.54,279.30) scale(1.0059,1.0000)" font-size="50" font-style="italic">t</text>
<text transform="translate(1270.97,292.70) scale(1.0433,1.0000)" font-size="43">PR</text>
<text transform="translate(1322.96,276.30) scale(1.1742,0.8600)" font-size="50">=</text>
<text transform="translate(1354.65,279.30) scale(0.9892,1.0000)" font-size="50">0.5 s,</text>
<text transform="translate(1474.41,279.30) scale(1.0614,1.0000)" font-size="50" font-style="italic">t</text>
<text transform="translate(1489.76,292.70) scale(1.0286,1.0000)" font-size="43">AD</text>
<text transform="translate(1550.95,276.30) scale(1.1785,0.8600)" font-size="50">=</text>
<text transform="translate(1579.77,279.30) scale(1.0490,1.0000)" font-size="50">2 s,</text>
<text transform="translate(1664.41,279.30) scale(1.0614,1.0000)" font-size="50" font-style="italic">t</text>
<text transform="translate(1679.00,292.70) scale(1.0170,1.0000)" font-size="43">PED</text>
<text transform="translate(1759.65,276.30) scale(1.1785,0.8600)" font-size="50">=</text>
<text transform="translate(1790.39,279.30) scale(1.0204,1.0000)" font-size="50">0.5 s</text>
<text transform="translate(278.66,1465.80) scale(1.0884,1.0000)" font-size="48">PR</text>
<text transform="translate(473.68,1465.00) scale(1.0932,1.0000)" font-size="48">AD</text>
<text transform="translate(664.58,1467.80) scale(1.0791,1.0000)" font-size="48">PED</text>
<text transform="translate(768.16,1466.60) scale(1.0901,1.0000)" font-size="48">BD</text>
<text transform="translate(924.87,1467.70) scale(1.0823,1.0000)" font-size="48">PU</text>
<text transform="translate(1068.31,1462.40) scale(1.0550,1.0000)" font-size="48">PEU</text>
<text transform="translate(1165.01,1462.40) scale(1.1268,1.0000)" font-size="48">PR</text>
<text transform="translate(1352.68,1457.60) scale(1.0783,1.0000)" font-size="48">AD</text>
<text transform="translate(1561.42,1455.20) scale(1.0448,1.0000)" font-size="48">PED</text>
<text transform="translate(1653.64,1455.20) scale(1.1090,1.0000)" font-size="48">BD</text>
<text transform="translate(1820.77,1452.50) scale(1.0823,1.0000)" font-size="48">PU</text>
<text transform="translate(1967.51,1448.40) scale(1.0550,1.0000)" font-size="48">PEU</text>
</g>
<g id="chart-b">
<polyline points="437.4,2310.8 448.5,2313.0 459.7,2315.3 470.8,2317.7 481.9,2320.3 493.0,2322.9 504.2,2325.5 515.3,2328.3 526.4,2331.1 537.6,2333.9 548.7,2336.8 559.8,2339.7 570.9,2342.6 582.1,2345.5 593.2,2348.4 604.3,2351.3 615.5,2354.1 626.6,2356.9 637.7,2359.7 648.8,2362.4 660.0,2365.0 671.1,2367.5 682.2,2370.0 693.4,2372.4 704.5,2374.8 715.6,2377.1 726.7,2379.3 737.9,2381.6 749.0,2383.8 760.1,2385.9 771.3,2388.1 782.4,2390.3 793.5,2392.4 804.6,2394.6 815.8,2396.8 826.9,2399.0 838.0,2401.3 849.2,2403.6 860.3,2405.9 871.4,2408.3 882.5,2410.8 893.7,2413.3 904.8,2416.0 915.9,2418.7 927.1,2421.6 938.2,2424.7 949.3,2428.0 960.4,2431.4 971.6,2435.1 982.7,2439.1 993.8,2443.4 1005.0,2447.9 1016.1,2452.8 1027.2,2458.1 1038.3,2463.7 1049.5,2469.7 1060.6,2476.0 1071.7,2482.6 1082.9,2489.6 1094.0,2496.9 1105.1,2504.5 1116.2,2512.4 1127.4,2520.5 1138.5,2528.9 1149.6,2537.6 1160.8,2546.5 1171.9,2555.7 1183.0,2565.0 1194.1,2574.6 1205.3,2584.4 1216.4,2594.3 1227.5,2604.5 1238.7,2614.8 1249.8,2625.3 1260.9,2635.9 1272.0,2646.7 1283.2,2657.6 1294.3,2668.7 1305.4,2680.0 1316.6,2691.4 1327.7,2702.9 1338.8,2714.6 1349.9,2726.5 1361.1,2738.5 1372.2,2750.7 1383.3,2763.0 1394.5,2775.5 1405.6,2788.2 1416.7,2801.1 1427.8,2814.1 1439.0,2827.3 1450.1,2840.6 1461.2,2854.1 1472.4,2867.7 1483.5,2881.5 1494.6,2895.4 1505.7,2909.4 1516.9,2923.5 1528.0,2937.7 1539.1,2952.0 1550.3,2966.4 1561.4,2980.9 1572.5,2995.4 1583.6,3010.0 1594.8,3024.6 1605.9,3039.3 1617.0,3054.1 1628.2,3068.8 1639.3,3083.6 1650.4,3098.5 1661.5,3113.4 1672.7,3128.5 1683.8,3143.6 1694.9,3158.9 1706.1,3174.3 1717.2,3189.8 1728.3,3205.5 1739.4,3221.3 1750.6,3237.4 1761.7,3253.6" fill="none" stroke="#000" stroke-width="6.2" stroke-linecap="round" stroke-linejoin="round"/>
<line x1="462.62" y1="2364.08" x2="559.48" y2="2375.62" stroke="#000" stroke-width="2.0" stroke-linecap="butt" />
<line x1="608.65" y1="2385.81" x2="707.65" y2="2415.39" stroke="#000" stroke-width="2.0" stroke-linecap="butt" />
<line x1="755.77" y1="2430.39" x2="854.93" y2="2462.61" stroke="#000" stroke-width="2.0" stroke-linecap="butt" />
<line x1="903.02" y1="2477.69" x2="1002.28" y2="2507.71" stroke="#000" stroke-width="2.0" stroke-linecap="butt" />
<line x1="1047.69" y1="2528.48" x2="1152.41" y2="2594.82" stroke="#000" stroke-width="2.0" stroke-linecap="butt" />
<line x1="1190.61" y1="2626.98" x2="1303.79" y2="2752.02" stroke="#000" stroke-width="2.0" stroke-linecap="butt" />
<line x1="437.60" y1="2334.80" x2="437.60" y2="2387.40" stroke="#000" stroke-width="2.0" stroke-linecap="butt" />
<line x1="422.10" y1="2334.80" x2="453.10" y2="2334.80" stroke="#000" stroke-width="2.0" stroke-linecap="butt" />
<line x1="422.10" y1="2387.40" x2="453.10" y2="2387.40" stroke="#000" stroke-width="2.0" stroke-linecap="butt" />
<rect x="422.8" y="2346.3" width="29.6" height="29.6" fill="#fff" stroke="#000" stroke-width="3"/>
<line x1="584.50" y1="2357.70" x2="584.50" y2="2400.30" stroke="#000" stroke-width="2.0" stroke-linecap="butt" />
<line x1="569.00" y1="2357.70" x2="600.00" y2="2357.70" stroke="#000" stroke-width="2.0" stroke-linecap="butt" />
<line x1="569.00" y1="2400.30" x2="600.00" y2="2400.30" stroke="#000" stroke-width="2.0" stroke-linecap="butt" />
<rect x="569.7" y="2363.8" width="29.6" height="29.6" fill="#fff" stroke="#000" stroke-width="3"/>
<line x1="731.80" y1="2391.10" x2="731.80" y2="2455.00" stroke="#000" stroke-width="2.0" stroke-linecap="butt" />
<line x1="716.30" y1="2391.10" x2="747.30" y2="2391.10" stroke="#000" stroke-width="2.0" stroke-linecap="butt" />
<line x1="716.30" y1="2455.00" x2="747.30" y2="2455.00" stroke="#000" stroke-width="2.0" stroke-linecap="butt" />
<rect x="717.0" y="2407.8" width="29.6" height="29.6" fill="#fff" stroke="#000" stroke-width="3"/>
<line x1="878.90" y1="2432.90" x2="878.90" y2="2507.60" stroke="#000" stroke-width="2.0" stroke-linecap="butt" />
<line x1="863.40" y1="2432.90" x2="894.40" y2="2432.90" stroke="#000" stroke-width="2.0" stroke-linecap="butt" />
<line x1="863.40" y1="2507.60" x2="894.40" y2="2507.60" stroke="#000" stroke-width="2.0" stroke-linecap="butt" />
<rect x="864.1" y="2455.6" width="29.6" height="29.6" fill="#fff" stroke="#000" stroke-width="3"/>
<line x1="1026.40" y1="2477.50" x2="1026.40" y2="2551.40" stroke="#000" stroke-width="2.0" stroke-linecap="butt" />
<line x1="1010.90" y1="2477.50" x2="1041.90" y2="2477.50" stroke="#000" stroke-width="2.0" stroke-linecap="butt" />
<line x1="1010.90" y1="2551.40" x2="1041.90" y2="2551.40" stroke="#000" stroke-width="2.0" stroke-linecap="butt" />
<rect x="1011.6" y="2500.2" width="29.6" height="29.6" fill="#fff" stroke="#000" stroke-width="3"/>
<line x1="1173.70" y1="2571.50" x2="1173.70" y2="2646.30" stroke="#000" stroke-width="2.0" stroke-linecap="butt" />
<line x1="1158.20" y1="2571.50" x2="1189.20" y2="2571.50" stroke="#000" stroke-width="2.0" stroke-linecap="butt" />
<line x1="1158.20" y1="2646.30" x2="1189.20" y2="2646.30" stroke="#000" stroke-width="2.0" stroke-linecap="butt" />
<rect x="1158.9" y="2593.5" width="29.6" height="29.6" fill="#fff" stroke="#000" stroke-width="3"/>
<line x1="1320.70" y1="2735.80" x2="1320.70" y2="2804.30" stroke="#000" stroke-width="2.0" stroke-linecap="butt" />
<line x1="1305.20" y1="2735.80" x2="1336.20" y2="2735.80" stroke="#000" stroke-width="2.0" stroke-linecap="butt" />
<line x1="1305.20" y1="2804.30" x2="1336.20" y2="2804.30" stroke="#000" stroke-width="2.0" stroke-linecap="butt" />
<rect x="1305.9" y="2755.9" width="29.6" height="29.6" fill="#fff" stroke="#000" stroke-width="3"/>
<polyline points="437.4,3070.7 448.5,3057.7 459.7,3044.7 470.8,3031.8 481.9,3018.8 493.1,3005.9 504.2,2993.1 515.4,2980.3 526.5,2967.5 537.6,2954.8 548.8,2942.1 559.9,2929.5 571.0,2916.9 582.2,2904.4 593.3,2892.0 604.5,2879.7 615.6,2867.4 626.7,2855.2 637.9,2843.0 649.0,2831.0 660.1,2819.0 671.3,2807.2 682.4,2795.4 693.6,2783.7 704.7,2772.2 715.8,2760.7 727.0,2749.4 738.1,2738.2 749.2,2727.1 760.4,2716.1 771.5,2705.2 782.6,2694.5 793.8,2683.9 804.9,2673.5 816.1,2663.1 827.2,2653.0 838.3,2643.0 849.5,2633.1 860.6,2623.4 871.7,2613.8 882.9,2604.4 894.0,2595.2 905.2,2586.2 916.3,2577.3 927.4,2568.6 938.6,2560.1 949.7,2551.8 960.8,2543.6 972.0,2535.6 983.1,2527.8 994.2,2520.1 1005.4,2512.5 1016.5,2505.0 1027.7,2497.7 1038.8,2490.4 1049.9,2483.3 1061.1,2476.2 1072.2,2469.3 1083.3,2462.5 1094.5,2455.8 1105.6,2449.2 1116.8,2442.7 1127.9,2436.3 1139.0,2430.0 1150.2,2423.9 1161.3,2417.9 1172.4,2412.1 1183.6,2406.4 1194.7,2400.9 1205.9,2395.5 1217.0,2390.3 1228.1,2385.3 1239.3,2380.5 1250.4,2375.9 1261.5,2371.4 1272.7,2367.2 1283.8,2363.1 1294.9,2359.3 1306.1,2355.6 1317.2,2352.1 1328.4,2348.7 1339.5,2345.5 1350.6,2342.5 1361.8,2339.7 1372.9,2337.0 1384.0,2334.4 1395.2,2332.0 1406.3,2329.8 1417.5,2327.7 1428.6,2325.7 1439.7,2323.9 1450.9,2322.2 1462.0,2320.6 1473.1,2319.2 1484.3,2317.9 1495.4,2316.7 1506.5,2315.6 1517.7,2314.6 1528.8,2313.7 1540.0,2312.9 1551.1,2312.3 1562.2,2311.7 1573.4,2311.2 1584.5,2310.8 1595.6,2310.5 1606.8,2310.2 1617.9,2310.1 1629.1,2310.0 1640.2,2310.0 1651.3,2310.0 1662.5,2310.1 1673.6,2310.3 1684.7,2310.5 1695.9,2310.8 1707.0,2311.1 1718.2,2311.5 1729.3,2311.9 1740.4,2312.3 1751.6,2312.8 1762.7,2313.3" fill="none" stroke="#f00" stroke-width="6.3" stroke-linecap="round" stroke-linejoin="round"/>
<line x1="453.80" y1="3108.21" x2="568.60" y2="2969.99" stroke="#f00" stroke-width="2.0" stroke-linecap="butt" />
<line x1="604.54" y1="2935.06" x2="711.76" y2="2851.04" stroke="#f00" stroke-width="2.0" stroke-linecap="butt" />
<line x1="747.57" y1="2816.01" x2="863.33" y2="2674.79" stroke="#f00" stroke-width="2.0" stroke-linecap="butt" />
<line x1="898.70" y1="2639.21" x2="1007.00" y2="2549.39" stroke="#f00" stroke-width="2.0" stroke-linecap="butt" />
<line x1="1047.91" y1="2520.17" x2="1151.99" y2="2456.63" stroke="#f00" stroke-width="2.0" stroke-linecap="butt" />
<line x1="1196.87" y1="2434.08" x2="1297.23" y2="2393.62" stroke="#f00" stroke-width="2.0" stroke-linecap="butt" />
<line x1="437.70" y1="3096.20" x2="437.70" y2="3158.90" stroke="#f00" stroke-width="2.0" stroke-linecap="butt" />
<line x1="422.20" y1="3096.20" x2="453.20" y2="3096.20" stroke="#f00" stroke-width="2.0" stroke-linecap="butt" />
<line x1="422.20" y1="3158.90" x2="453.20" y2="3158.90" stroke="#f00" stroke-width="2.0" stroke-linecap="butt" />
<circle cx="437.7" cy="3127.6" r="16.6" fill="#fff" stroke="#f00" stroke-width="3"/>
<line x1="584.70" y1="2928.50" x2="584.70" y2="2973.10" stroke="#f00" stroke-width="2.0" stroke-linecap="butt" />
<line x1="569.20" y1="2928.50" x2="600.20" y2="2928.50" stroke="#f00" stroke-width="2.0" stroke-linecap="butt" />
<line x1="569.20" y1="2973.10" x2="600.20" y2="2973.10" stroke="#f00" stroke-width="2.0" stroke-linecap="butt" />
<circle cx="584.7" cy="2950.6" r="16.6" fill="#fff" stroke="#f00" stroke-width="3"/>
<line x1="731.60" y1="2807.90" x2="731.60" y2="2863.80" stroke="#f00" stroke-width="2.0" stroke-linecap="butt" />
<line x1="716.10" y1="2807.90" x2="747.10" y2="2807.90" stroke="#f00" stroke-width="2.0" stroke-linecap="butt" />
<line x1="716.10" y1="2863.80" x2="747.10" y2="2863.80" stroke="#f00" stroke-width="2.0" stroke-linecap="butt" />
<circle cx="731.6" cy="2835.5" r="16.6" fill="#fff" stroke="#f00" stroke-width="3"/>
<line x1="879.30" y1="2616.50" x2="879.30" y2="2694.90" stroke="#f00" stroke-width="2.0" stroke-linecap="butt" />
<line x1="863.80" y1="2616.50" x2="894.80" y2="2616.50" stroke="#f00" stroke-width="2.0" stroke-linecap="butt" />
<line x1="863.80" y1="2694.90" x2="894.80" y2="2694.90" stroke="#f00" stroke-width="2.0" stroke-linecap="butt" />
<circle cx="879.3" cy="2655.3" r="16.6" fill="#fff" stroke="#f00" stroke-width="3"/>
<line x1="1026.40" y1="2499.00" x2="1026.40" y2="2566.30" stroke="#f00" stroke-width="2.0" stroke-linecap="butt" />
<line x1="1010.90" y1="2499.00" x2="1041.90" y2="2499.00" stroke="#f00" stroke-width="2.0" stroke-linecap="butt" />
<line x1="1010.90" y1="2566.30" x2="1041.90" y2="2566.30" stroke="#f00" stroke-width="2.0" stroke-linecap="butt" />
<circle cx="1026.4" cy="2533.3" r="16.6" fill="#fff" stroke="#f00" stroke-width="3"/>
<line x1="1173.50" y1="2410.80" x2="1173.50" y2="2477.50" stroke="#f00" stroke-width="2.0" stroke-linecap="butt" />
<line x1="1158.00" y1="2410.80" x2="1189.00" y2="2410.80" stroke="#f00" stroke-width="2.0" stroke-linecap="butt" />
<line x1="1158.00" y1="2477.50" x2="1189.00" y2="2477.50" stroke="#f00" stroke-width="2.0" stroke-linecap="butt" />
<circle cx="1173.5" cy="2443.5" r="16.6" fill="#fff" stroke="#f00" stroke-width="3"/>
<line x1="1320.60" y1="2349.70" x2="1320.60" y2="2419.20" stroke="#f00" stroke-width="2.0" stroke-linecap="butt" />
<line x1="1305.10" y1="2349.70" x2="1336.10" y2="2349.70" stroke="#f00" stroke-width="2.0" stroke-linecap="butt" />
<line x1="1305.10" y1="2419.20" x2="1336.10" y2="2419.20" stroke="#f00" stroke-width="2.0" stroke-linecap="butt" />
<circle cx="1320.6" cy="2384.2" r="16.6" fill="#fff" stroke="#f00" stroke-width="3"/>
<line x1="690.40" y1="2411.30" x2="611.90" y2="2411.30" stroke="#000" stroke-width="3.0" stroke-linecap="butt" />
<polygon points="571.4,2411.3 612.9,2401.1 612.9,2421.5" fill="#000"/>
<line x1="689.30" y1="2410.20" x2="689.30" y2="2513.70" stroke="#000" stroke-width="2.2" stroke-linecap="butt" />
<polygon points="689.3,2554.2 679.1,2512.7 699.5,2512.7" fill="#000"/>
<line x1="1412.00" y1="2333.20" x2="1494.00" y2="2333.20" stroke="#f00" stroke-width="3.0" stroke-linecap="butt" />
<polygon points="1534.5,2333.2 1493.0,2343.4 1493.0,2323.0" fill="#f00"/>
<line x1="1413.00" y1="2332.20" x2="1413.00" y2="2420.90" stroke="#f00" stroke-width="2.2" stroke-linecap="butt" />
<polygon points="1413.0,2461.4 1402.8,2419.9 1423.2,2419.9" fill="#f00"/>
<rect x="217.3" y="1982.0" width="1838.8" height="1489.5" fill="none" stroke="#000" stroke-width="6.2"/>
<line x1="188.10" y1="1982.00" x2="217.30" y2="1982.00" stroke="#000" stroke-width="5.8" stroke-linecap="butt" />
<text transform="translate(73.86,1999.80) scale(1.0000,1.0000)" font-size="63">100</text>
<line x1="203.10" y1="2130.95" x2="217.30" y2="2130.95" stroke="#000" stroke-width="5.8" stroke-linecap="butt" />
<line x1="188.10" y1="2279.90" x2="217.30" y2="2279.90" stroke="#000" stroke-width="5.8" stroke-linecap="butt" />
<text transform="translate(105.52,2297.70) scale(1.0000,1.0000)" font-size="63">95</text>
<line x1="203.10" y1="2428.85" x2="217.30" y2="2428.85" stroke="#000" stroke-width="5.8" stroke-linecap="butt" />
<line x1="188.10" y1="2577.80" x2="217.30" y2="2577.80" stroke="#000" stroke-width="5.8" stroke-linecap="butt" />
<text transform="translate(105.36,2595.60) scale(1.0000,1.0000)" font-size="63">90</text>
<line x1="203.10" y1="2726.75" x2="217.30" y2="2726.75" stroke="#000" stroke-width="5.8" stroke-linecap="butt" />
<line x1="188.10" y1="2875.70" x2="217.30" y2="2875.70" stroke="#000" stroke-width="5.8" stroke-linecap="butt" />
<text transform="translate(105.52,2893.50) scale(1.0000,1.0000)" font-size="63">85</text>
<line x1="203.10" y1="3024.65" x2="217.30" y2="3024.65" stroke="#000" stroke-width="5.8" stroke-linecap="butt" />
<line x1="188.10" y1="3173.60" x2="217.30" y2="3173.60" stroke="#000" stroke-width="5.8" stroke-linecap="butt" />
<text transform="translate(105.36,3191.40) scale(1.0000,1.0000)" font-size="63">80</text>
<line x1="203.10" y1="3322.55" x2="217.30" y2="3322.55" stroke="#000" stroke-width="5.8" stroke-linecap="butt" />
<line x1="188.10" y1="3471.50" x2="217.30" y2="3471.50" stroke="#000" stroke-width="5.8" stroke-linecap="butt" />
<text transform="translate(105.52,3489.30) scale(1.0000,1.0000)" font-size="63">75</text>
<line x1="2056.10" y1="3471.50" x2="2084.80" y2="3471.50" stroke="#000" stroke-width="5.8" stroke-linecap="butt" />
<text transform="translate(2103.52,3489.30) scale(1.0000,1.0000)" font-size="63">25</text>
<line x1="2056.10" y1="3223.25" x2="2071.00" y2="3223.25" stroke="#000" stroke-width="5.8" stroke-linecap="butt" />
<line x1="2056.10" y1="2975.00" x2="2084.80" y2="2975.00" stroke="#000" stroke-width="5.8" stroke-linecap="butt" />
<text transform="translate(2103.21,2992.80) scale(1.0000,1.0000)" font-size="63">30</text>
<line x1="2056.10" y1="2726.75" x2="2071.00" y2="2726.75" stroke="#000" stroke-width="5.8" stroke-linecap="butt" />
<line x1="2056.10" y1="2478.50" x2="2084.80" y2="2478.50" stroke="#000" stroke-width="5.8" stroke-linecap="butt" />
<text transform="translate(2103.21,2496.30) scale(1.0000,1.0000)" font-size="63">35</text>
<line x1="2056.10" y1="2230.25" x2="2071.00" y2="2230.25" stroke="#000" stroke-width="5.8" stroke-linecap="butt" />
<line x1="2056.10" y1="1982.00" x2="2084.80" y2="1982.00" stroke="#000" stroke-width="5.8" stroke-linecap="butt" />
<text transform="translate(2104.94,1999.80) scale(1.0000,1.0000)" font-size="63">40</text>
<line x1="217.30" y1="3471.50" x2="217.30" y2="3500.50" stroke="#000" stroke-width="5.8" stroke-linecap="butt" />
<text transform="translate(177.93,3569.20) scale(1.0000,1.0000)" font-size="63">0.5</text>
<line x1="401.18" y1="3471.50" x2="401.18" y2="3485.60" stroke="#000" stroke-width="5.8" stroke-linecap="butt" />
<line x1="585.06" y1="3471.50" x2="585.06" y2="3500.50" stroke="#000" stroke-width="5.8" stroke-linecap="butt" />
<text transform="translate(545.68,3569.20) scale(1.0000,1.0000)" font-size="63">1.0</text>
<line x1="768.94" y1="3471.50" x2="768.94" y2="3485.60" stroke="#000" stroke-width="5.8" stroke-linecap="butt" />
<line x1="952.82" y1="3471.50" x2="952.82" y2="3500.50" stroke="#000" stroke-width="5.8" stroke-linecap="butt" />
<text transform="translate(913.44,3569.20) scale(1.0000,1.0000)" font-size="63">1.5</text>
<line x1="1136.70" y1="3471.50" x2="1136.70" y2="3485.60" stroke="#000" stroke-width="5.8" stroke-linecap="butt" />
<line x1="1320.58" y1="3471.50" x2="1320.58" y2="3500.50" stroke="#000" stroke-width="5.8" stroke-linecap="butt" />
<text transform="translate(1281.20,3569.20) scale(1.0000,1.0000)" font-size="63">2.0</text>
<line x1="1504.46" y1="3471.50" x2="1504.46" y2="3485.60" stroke="#000" stroke-width="5.8" stroke-linecap="butt" />
<line x1="1688.34" y1="3471.50" x2="1688.34" y2="3500.50" stroke="#000" stroke-width="5.8" stroke-linecap="butt" />
<text transform="translate(1648.96,3569.20) scale(1.0000,1.0000)" font-size="63">2.5</text>
<line x1="1872.22" y1="3471.50" x2="1872.22" y2="3485.60" stroke="#000" stroke-width="5.8" stroke-linecap="butt" />
<line x1="2056.10" y1="3471.50" x2="2056.10" y2="3500.50" stroke="#000" stroke-width="5.8" stroke-linecap="butt" />
<text transform="translate(2016.72,3569.20) scale(1.0000,1.0000)" font-size="63">3.0</text>
<text transform="translate(79.50,3099.60) rotate(-90) translate(-2.79,0.00) scale(0.9831,1.0000)" font-size="71" xml:space="preserve">Oxygen purity of  product (%)</text>
<text transform="translate(2252.80,3020.50) rotate(-90) translate(-1.93,0.00) scale(0.9902,1.0000)" font-size="71" xml:space="preserve">Recovery of  product (%)</text>
<text transform="translate(793.28,3644.80) scale(0.9798,1.0000)" font-size="71.3">Flow rate of product (L</text>
<text transform="translate(1446.03,3639.24) scale(0.9999,1.0000)" font-size="73.2">·</text>
<text transform="translate(1466.82,3644.80) scale(0.9652,1.0000)" font-size="71.3">min</text>
<text transform="translate(1574.19,3614.30) scale(0.9554,1.0000)" font-size="45">-1</text>
<text transform="translate(1612.53,3644.80) scale(1.0676,1.0000)" font-size="71.3">)</text>
<text transform="translate(568.55,3752.00) scale(0.9980,1.0000)" font-size="86">(</text>
<text transform="translate(601.35,3752.00) scale(0.8840,1.0000)" font-size="86" font-weight="bold">b</text>
<text transform="translate(645.71,3752.00) scale(0.9980,1.0000)" font-size="86">)</text>
<text transform="translate(694.03,3752.00) scale(1.0773,1.0000)" font-size="86">oxygen purity and recovery</text>
<line x1="1023.60" y1="3163.00" x2="1148.70" y2="3163.00" stroke="#000" stroke-width="6.4" stroke-linecap="round" />
<line x1="1021.00" y1="3232.30" x2="1065.00" y2="3232.30" stroke="#000" stroke-width="1.8" stroke-linecap="butt" />
<line x1="1107.00" y1="3232.30" x2="1151.40" y2="3232.30" stroke="#000" stroke-width="1.8" stroke-linecap="butt" />
<rect x="1070.4" y="3217.2" width="31.2" height="31.2" fill="#fff" stroke="#000" stroke-width="3"/>
<line x1="1016.80" y1="3322.40" x2="1142.60" y2="3322.40" stroke="#f00" stroke-width="6.8" stroke-linecap="round" />
<line x1="1014.70" y1="3392.00" x2="1057.00" y2="3392.00" stroke="#f00" stroke-width="1.8" stroke-linecap="butt" />
<line x1="1101.00" y1="3392.00" x2="1144.10" y2="3392.00" stroke="#f00" stroke-width="1.8" stroke-linecap="butt" />
<circle cx="1079" cy="3392" r="16.7" fill="#fff" stroke="#f00" stroke-width="3"/>
<text transform="translate(1163.39,3181.70) scale(0.9779,1.0000)" font-size="56.5">simulated purity</text>
<text transform="translate(1162.98,3250.80) scale(0.9802,1.0000)" font-size="56.5">experimental purity</text>
<text transform="translate(1157.18,3341.10) scale(0.9802,1.0000)" font-size="56.5">simulated recovery</text>
<text transform="translate(1156.99,3410.80) scale(0.9779,1.0000)" font-size="56.5">experimental recovery</text>
<text transform="translate(295.26,3270.10) scale(1.0664,1.0000)" font-size="48" font-style="italic">P</text>
<text transform="translate(325.80,3281.90) scale(1.0123,1.0000)" font-size="35.8">H</text>
<text transform="translate(349.27,3267.43) scale(1.1380,0.8600)" font-size="48">=</text>
<text transform="translate(378.33,3270.10) scale(1.0125,1.0000)" font-size="48">248 kPa,</text>
<text transform="translate(560.25,3270.10) scale(1.0381,1.0000)" font-size="48" font-style="italic">P</text>
<text transform="translate(589.79,3281.90) scale(1.0796,1.0000)" font-size="34">PED</text>
<text transform="translate(655.84,3267.43) scale(1.1066,0.8600)" font-size="48">=</text>
<text transform="translate(685.55,3270.10) scale(1.0114,1.0000)" font-size="48">169 kPa</text>
<text transform="translate(308.72,3350.20) scale(0.9158,1.0000)" font-size="48" font-style="italic">t</text>
<text transform="translate(321.06,3363.60) scale(1.0071,1.0000)" font-size="41.3">PR</text>
<text transform="translate(371.43,3346.63) scale(1.1111,0.8600)" font-size="48">=</text>
<text transform="translate(400.48,3350.20) scale(0.9549,1.0000)" font-size="48">0.5 s,</text>
<text transform="translate(513.66,3350.20) scale(0.9901,1.0000)" font-size="48" font-style="italic">t</text>
<text transform="translate(528.79,3363.60) scale(0.9894,1.0000)" font-size="41.3">AD</text>
<text transform="translate(585.36,3346.63) scale(1.1425,0.8600)" font-size="48">=</text>
<text transform="translate(612.83,3350.20) scale(1.0133,1.0000)" font-size="48">2 s,</text>
<text transform="translate(692.70,3350.20) scale(0.9241,1.0000)" font-size="48" font-style="italic">t</text>
<text transform="translate(705.34,3363.60) scale(1.0576,1.0000)" font-size="40">PED</text>
<text transform="translate(782.27,3346.63) scale(1.1380,0.8600)" font-size="48">=</text>
<text transform="translate(810.79,3350.20) scale(1.0055,1.0000)" font-size="48">0.5 s</text>
</g>
</svg></body></html>
